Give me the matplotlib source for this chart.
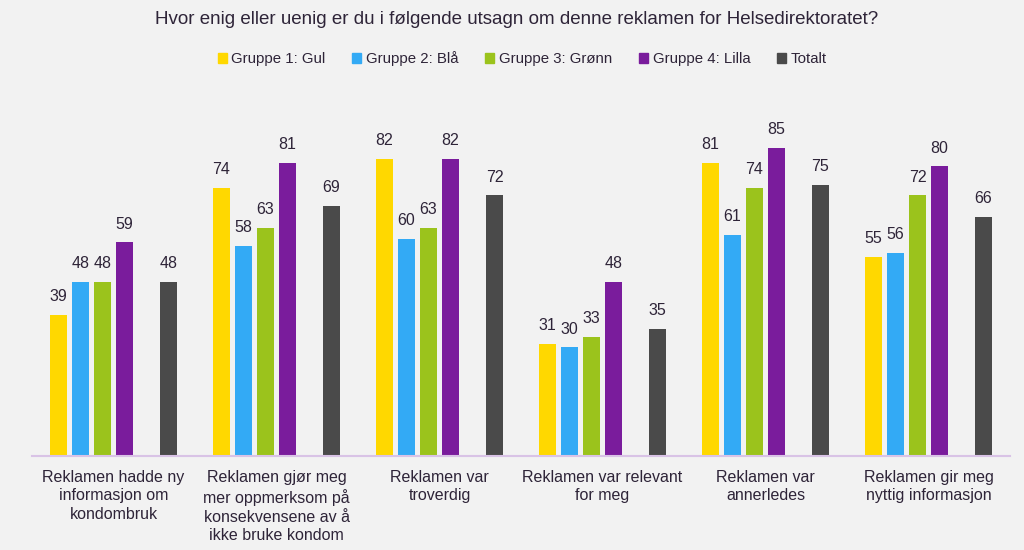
import matplotlib.pyplot as plt
from matplotlib.patches import Patch

plt.rcParams['font.family'] = ['Liberation Sans', 'DejaVu Sans']

kategorier = ['Reklamen hadde ny\ninformasjon om\nkondombruk',
              'Reklamen gjør meg\nmer oppmerksom på\nkonsekvensene av å\nikke bruke kondom',
              'Reklamen var\ntroverdig',
              'Reklamen var relevant\nfor meg',
              'Reklamen var\nannerledes',
              'Reklamen gir meg\nnyttig informasjon']
serier = ['Gruppe 1: Gul', 'Gruppe 2: Blå', 'Gruppe 3: Grønn', 'Gruppe 4: Lilla', 'Totalt']
gul = [39, 74, 82, 31, 81, 55]
blaa = [48, 58, 60, 30, 61, 56]
gronn = [48, 63, 63, 33, 74, 72]
lilla = [59, 81, 82, 48, 85, 80]
totalt = [48, 69, 72, 35, 75, 66]

verdier = [gul, blaa, gronn, lilla, totalt]
farger = ['#FFD800', '#33AAF5', '#9BC31C', '#7A1C9C', '#4A4A4A']
slots = [0, 1, 2, 3, 5]  # tom plass før Totalt
tekst = '#2E2438'
bg = '#F2F2F2'

fig = plt.figure(figsize=(10.24, 5.5), dpi=100, facecolor=bg)
ax = fig.add_axes([32 / 1024, 94 / 550, 978 / 1024, 362 / 550])
ax.set_facecolor(bg)

step = 22 / 163
w = 17 / 163
for vals, farge, s, navn in zip(verdier, farger, slots, serier):
    xs = [i + (s - 2.5) * step for i in range(len(kategorier))]
    ax.bar(xs, vals, width=w, color=farge, label=navn)
    for x, v in zip(xs, vals):
        ax.text(x, v + 3, str(v), ha='center', va='bottom', fontsize=11.5, color=tekst)

ax.set_xlim(-0.5, len(kategorier) - 0.5)
ax.set_ylim(0, 100)
ax.set_yticks([])
ax.set_xticks(range(len(kategorier)))
ax.set_xticklabels(kategorier, fontsize=11.5, color=tekst, linespacing=1.3)
ax.tick_params(axis='x', length=0, pad=10)
for side in ['top', 'right', 'left']:
    ax.spines[side].set_visible(False)
ax.spines['bottom'].set_color('#D9C3E6')
ax.spines['bottom'].set_linewidth(1.5)

fig.text(0.505, 1 - 20 / 550, 'Hvor enig eller uenig er du i følgende utsagn om denne reklamen for Helsedirektoratet?',
         ha='center', va='center', fontsize=13.5, color=tekst)
handles = [Patch(color=f, label=n) for f, n in zip(farger, serier)]
fig.legend(handles=handles, loc='center', bbox_to_anchor=(0.51, 1 - 59 / 550), ncol=5, frameon=False,
           fontsize=10.8, handlelength=0.6, handleheight=0.6, handletextpad=0.3, columnspacing=1.8,
           labelcolor=tekst)

fig.savefig('out.png', dpi=100, facecolor=bg)
